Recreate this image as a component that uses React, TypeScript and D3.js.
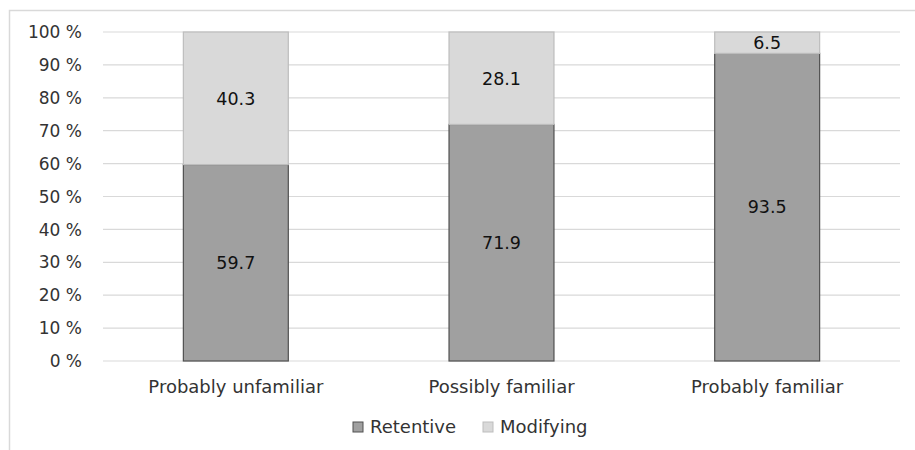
import React from "react";
import * as d3 from "d3";

const categories = ["Probably unfamiliar", "Possibly familiar", "Probably familiar"];
const retentive = [59.7, 71.9, 93.5];
const modifying = [40.3, 28.1, 6.5];
const yTicks = [0, 10, 20, 30, 40, 50, 60, 70, 80, 90, 100];
const seriesNames = ["Retentive", "Modifying"];

const W = 915, H = 450;
const FONT = "'DejaVu Sans', sans-serif";

export default function App() {
  const left = 103, right = 900, top = 32, bottom = 361;
  const x = d3.scaleBand<string>().domain(categories).range([left, right]).paddingInner(0.605).paddingOuter(0.3025);
  const y = d3.scaleLinear().domain([0, 100]).range([bottom, top]);
  const colors = ["#a0a0a0", "#d9d9d9"];
  const strokes = ["#505050", "#bdbdbd"];
  return (
    <svg width={W} height={H} style={{ position: "absolute", left: 0, top: 0 }} fontFamily={FONT}>
      <rect x={0} y={0} width={W} height={H} fill="#fff" />
      <path d={`M9.5,${H} V10.5 H${W}`} fill="none" stroke="#d9d9d9" strokeWidth={1.5} />
      {yTicks.map((t) => (
        <g key={t}>
          <line x1={left} x2={right} y1={y(t)} y2={y(t)} stroke="#d9d9d9" strokeWidth={1.2} />
          <text x={82} y={y(t)} dy="0.36em" textAnchor="end" fontSize={17} fill="#333">{`${t} %`}</text>
        </g>
      ))}
      {categories.map((c, i) => {
        const bx = x(c)!;
        const bw = x.bandwidth();
        const r = retentive[i], m = modifying[i];
        return (
          <g key={c}>
            <rect x={bx} y={y(r)} width={bw} height={y(0) - y(r)} fill={colors[0]} stroke={strokes[0]} strokeWidth={1.2} />
            <rect x={bx} y={y(r + m)} width={bw} height={y(r) - y(r + m)} fill={colors[1]} stroke={strokes[1]} strokeWidth={1.2} />
            <text x={bx + bw / 2} y={(y(0) + y(r)) / 2} dy="0.36em" textAnchor="middle" fontSize={17.5} fill="#111">{r.toFixed(1)}</text>
            <text x={bx + bw / 2} y={(y(r) + y(r + m)) / 2} dy="0.36em" textAnchor="middle" fontSize={17.5} fill="#111">{m.toFixed(1)}</text>
            <text x={bx + bw / 2} y={387} dy="0.36em" textAnchor="middle" fontSize={18} fill="#333">{c}</text>
          </g>
        );
      })}
      {seriesNames.map((s, i) => {
        const lx = [353, 483][i];
        return (
          <g key={s}>
            <rect x={lx} y={422} width={10} height={10} fill={colors[i]} stroke={strokes[i]} strokeWidth={1} />
            <text x={lx + 17} y={427} dy="0.36em" fontSize={18} fill="#333">{s}</text>
          </g>
        );
      })}
    </svg>
  );
}
